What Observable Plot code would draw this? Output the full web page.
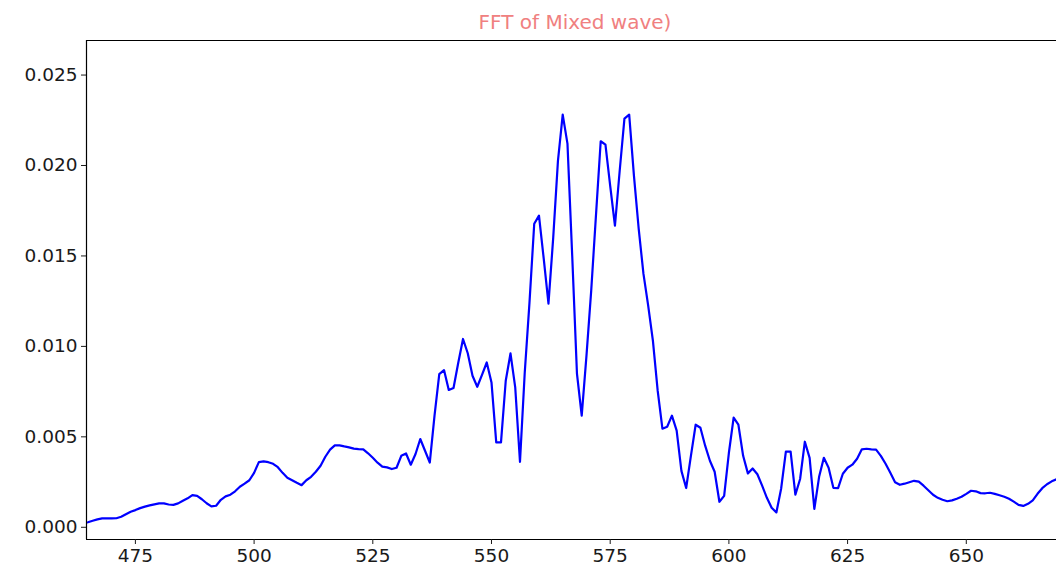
<!DOCTYPE html>
<html>
<head>
<meta charset="utf-8">
<script src="https://cdn.jsdelivr.net/npm/d3@7"></script>
<script src="https://cdn.jsdelivr.net/npm/@observablehq/plot@0.6"></script>
<style>
  html, body { margin: 0; padding: 0; background: #fff; }
  #wrap { width: 1056px; height: 578px; position: relative; overflow: hidden; }
  #title {
    height: 32px; line-height: 44px; text-align: center;
    font-family: "DejaVu Sans", sans-serif; font-size: 20px;
    color: #f08080; padding-left: 94px;
  }
</style>
</head>
<body>
<div id="wrap">
  <div id="title">FFT of Mixed wave)</div>
  <div id="chart"></div>
</div>
<script>
// FFT magnitude, one value per 1 Hz bin starting at 464 Hz
const firstBin = 464;
const magnitude = [
  0.00022, 0.00028, 0.00036, 0.00044, 0.00049, 0.00049, 0.00049, 0.00050, 0.00058, 0.00072,
  0.00086, 0.00095, 0.00106, 0.00114, 0.00121, 0.00127, 0.00132, 0.00132, 0.00126, 0.00124,
  0.00132, 0.00147, 0.00160, 0.00178, 0.00174, 0.00155, 0.00133, 0.00116, 0.00119, 0.00152,
  0.00171, 0.00180, 0.00199, 0.00224, 0.00241, 0.00260, 0.00301, 0.00360, 0.00364, 0.00360,
  0.00351, 0.00332, 0.00301, 0.00274, 0.00260, 0.00246, 0.00233, 0.00260, 0.00279, 0.00307,
  0.00340, 0.00390, 0.00429, 0.00453, 0.00453, 0.00447, 0.00442, 0.00435, 0.00432, 0.00431,
  0.00409, 0.00384, 0.00357, 0.00335, 0.00331, 0.00322, 0.00329, 0.00395, 0.00408, 0.00346,
  0.00405, 0.00488, 0.00423, 0.00358, 0.00617, 0.00847, 0.00869, 0.00759, 0.00770, 0.00910,
  0.01041, 0.00962, 0.00838, 0.00777, 0.00843, 0.00911, 0.00801, 0.00469, 0.00469, 0.00810,
  0.00961, 0.00773, 0.00362, 0.00854, 0.01242, 0.01678, 0.01723, 0.01485, 0.01236, 0.01601,
  0.02027, 0.02281, 0.02121, 0.01501, 0.00849, 0.00617, 0.00948, 0.01308, 0.01723, 0.02134,
  0.02115, 0.01888, 0.01667, 0.01971, 0.02259, 0.02281, 0.01944, 0.01651, 0.01402, 0.01225,
  0.01031, 0.00755, 0.00545, 0.00556, 0.00617, 0.00534, 0.00312, 0.00217, 0.00395, 0.00567,
  0.00550, 0.00451, 0.00368, 0.00307, 0.00141, 0.00174, 0.00412, 0.00606, 0.00567, 0.00395,
  0.00298, 0.00325, 0.00293, 0.00230, 0.00163, 0.00108, 0.00082, 0.00213, 0.00418, 0.00418,
  0.00180, 0.00267, 0.00473, 0.00384, 0.00102, 0.00279, 0.00384, 0.00329, 0.00218, 0.00217,
  0.00296, 0.00329, 0.00346, 0.00379, 0.00431, 0.00434, 0.00431, 0.00429, 0.00395, 0.00351,
  0.00301, 0.00249, 0.00235, 0.00241, 0.00249, 0.00257, 0.00252, 0.00230, 0.00205, 0.00180,
  0.00163, 0.00152, 0.00144, 0.00149, 0.00158, 0.00169, 0.00185, 0.00202, 0.00199, 0.00189,
  0.00188, 0.00191, 0.00185, 0.00177, 0.00169, 0.00158, 0.00142, 0.00124, 0.00118, 0.00130,
  0.00149, 0.00185, 0.00216, 0.00238, 0.00254, 0.00265, 0.00274
];
const xTicks = [475, 500, 525, 550, 575, 600, 625, 650];
const yTicks = [0, 0.005, 0.010, 0.015, 0.020, 0.025];

const spectrum = magnitude.map((m, i) => ({freq: firstBin + i, mag: m}));

const xDomain = [464.7, 669.0];
const yDomain = [-0.000675, 0.02691];

const chart = Plot.plot({
  width: 1056,
  height: 546,
  marginLeft: 86,
  marginRight: 0,
  marginTop: 8,
  marginBottom: 39,
  style: {fontFamily: "DejaVu Sans, sans-serif", fontSize: "18.5px", color: "#1a1a1a", background: "#fff"},
  x: {domain: xDomain, ticks: xTicks, tickFormat: d3.format("d"), label: null, tickSize: 5, tickPadding: 4},
  y: {domain: yDomain, ticks: yTicks, tickFormat: d3.format(".3f"), label: null, tickSize: 5, tickPadding: 4},
  marks: [
    Plot.line(spectrum, {x: "freq", y: "mag", stroke: "#0000ff", strokeWidth: 2.2, clip: true}),
    Plot.ruleX([xDomain[0]], {stroke: "#000", strokeWidth: 1.2}),
    Plot.ruleY([yDomain[0]], {stroke: "#000", strokeWidth: 1.2}),
    Plot.ruleY([yDomain[1]], {stroke: "#000", strokeWidth: 1.2}),
    Plot.axisX({ticks: xTicks, tickFormat: d3.format("d"), tickSize: 5, tickPadding: 4, label: null}),
    Plot.axisY({ticks: yTicks, tickFormat: d3.format(".3f"), tickSize: 5, tickPadding: 4, label: null})
  ]
});
document.getElementById("chart").appendChild(chart);
</script>
</body>
</html>
